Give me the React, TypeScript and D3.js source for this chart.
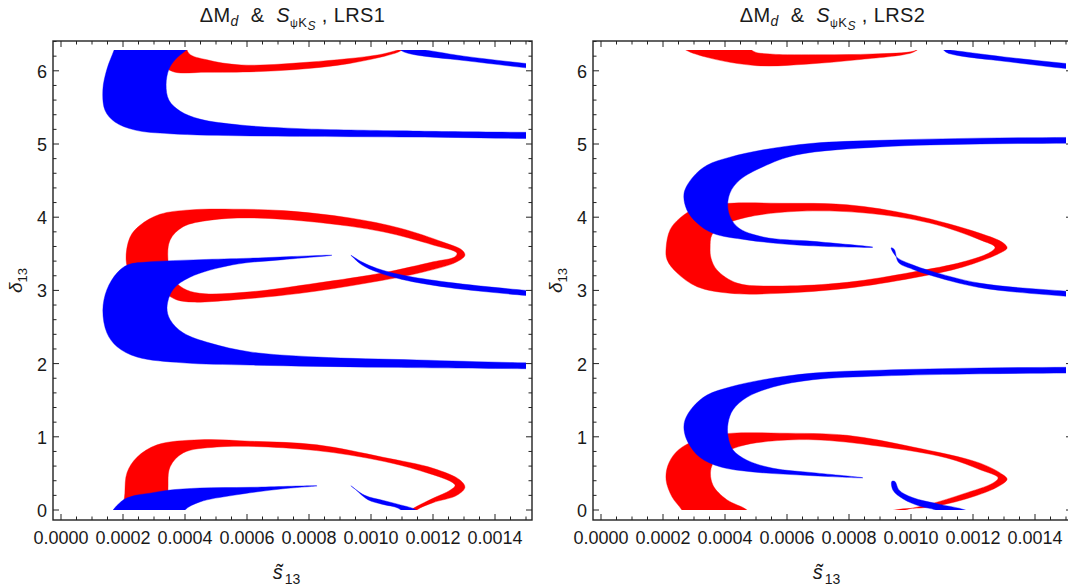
import React from 'react';
import * as d3 from 'd3';

// ---------- axes ----------
const TAU = 2 * Math.PI;
const S_DOMAIN: [number, number] = [0, 0.0015];
const D_DOMAIN: [number, number] = [0, TAU];
const S_UNIT = 1e-4; // region s-values below are given in units of 1e-4

const X_MAJOR = [0, 0.0002, 0.0004, 0.0006, 0.0008, 0.001, 0.0012, 0.0014];
const X_LABELS = ['0.0000', '0.0002', '0.0004', '0.0006', '0.0008', '0.0010', '0.0012', '0.0014'];
const Y_MAJOR = [0, 1, 2, 3, 4, 5, 6];
const Y_LABELS = ['0', '1', '2', '3', '4', '5', '6'];

const RED = '#ff0000';
const BLUE = '#0000ff';

// ---------- LRS1 (left) : [s (1e-4), delta] ----------
const lrs1RedLoopOuter = [[2.10,3.42],[2.23,3.73],[2.55,3.89],[3.19,4.04],[4.16,4.10],[5.55,4.11],[7.16,4.09],[9.32,3.99],[10.94,3.85],[12.32,3.66],[12.94,3.55],[13.03,3.48],[12.77,3.39],[11.68,3.25],[9.87,3.10],[7.71,2.96],[5.55,2.87],[4.26,2.84],[3.74,2.87],[3.42,2.94],[2.87,3.05],[2.23,3.24]];
const lrs1RedLoopInner = [[3.45,3.42],[3.52,3.69],[3.94,3.87],[4.81,3.96],[6.10,3.99],[8.26,3.93],[10.39,3.80],[12.0,3.62],[12.77,3.51],[12.71,3.46],[12.0,3.39],[10.39,3.24],[8.26,3.10],[6.10,2.98],[4.48,2.96],[3.94,3.03],[3.58,3.18]];
const lrs1RedTop = [[3.3,6.5],[3.95,6.5],[4.12,6.24],[4.71,6.15],[5.81,6.08],[8.03,6.12],[10.26,6.22],[11.05,6.30],[10.84,6.25],[9.16,6.09],[6.94,6.0],[4.71,5.98],[3.6,5.99],[3.3,6.1]];
const lrs1RedBottom = [[2.06,-0.2],[2.06,0.23],[2.13,0.51],[2.45,0.72],[3.10,0.89],[4.48,0.96],[6.10,0.94],[8.26,0.89],[10.39,0.72],[12.0,0.57],[12.87,0.41],[13.03,0.31],[12.77,0.20],[12.0,0.10],[11.48,0.0],[11.3,-0.1],[11.1,-0.1],[11.29,0.0],[11.48,0.05],[12.0,0.16],[12.55,0.27],[12.71,0.34],[11.48,0.55],[9.32,0.75],[7.16,0.85],[5.03,0.86],[3.94,0.78],[3.52,0.59],[3.45,0.27],[3.45,-0.2]];

const lrs1BlueTopC = [[1.86,6.45],[1.71,6.28],[1.48,6.02],[1.35,5.74],[1.42,5.46],[1.74,5.30],[2.39,5.19],[3.52,5.14],[6.10,5.11],[9.32,5.10],[12.5,5.09],[15.0,5.075],[16.5,5.07],[16.5,5.16],[15.0,5.16],[12.5,5.17],[10.94,5.18],[7.71,5.21],[5.77,5.26],[4.48,5.34],[3.84,5.45],[3.48,5.60],[3.39,5.81],[3.48,6.02],[3.68,6.15],[4.03,6.28],[4.5,6.45]];
const lrs1BlueTopThin = [[10.95,6.29],[11.4,6.30],[13,6.2],[15,6.1],[16.5,6.04],[16.5,5.97],[15,6.04],[13,6.14],[11.4,6.22],[11.05,6.26]];
const lrs1BlueMidC = [[8.74,3.48],[6.10,3.44],[4.48,3.42],[2.87,3.39],[2.16,3.35],[1.81,3.24],[1.48,3.01],[1.35,2.73],[1.48,2.42],[1.81,2.23],[2.45,2.09],[3.94,2.01],[6.10,1.98],[10.39,1.95],[15.0,1.93],[16.5,1.925],[16.5,2.0],[15.0,2.01],[11.48,2.05],[8.26,2.09],[6.10,2.16],[4.81,2.28],[3.94,2.42],[3.52,2.60],[3.42,2.77],[3.61,3.01],[4.16,3.18],[5.55,3.35],[7.16,3.42]];
const lrs1BlueMidThin = [[9.35,3.48],[9.7,3.39],[10.2,3.30],[11,3.21],[12.5,3.11],[15,3.0],[16.5,2.95],[16.5,2.88],[15,2.93],[12.5,3.04],[11,3.15],[10.2,3.25],[9.7,3.35],[9.4,3.46]];
const lrs1BlueBottomLeft = [[1.5,-0.15],[1.68,0.0],[1.9,0.1],[2.06,0.15],[2.4,0.2],[2.87,0.23],[3.45,0.27],[4.48,0.30],[6.10,0.31],[8.26,0.33],[7.16,0.29],[5.55,0.20],[4.48,0.11],[4.0,0.0],[3.85,-0.15]];
const lrs1BlueBottomThin = [[9.35,0.33],[9.8,0.20],[10.4,0.13],[10.95,0.07],[11.45,0.0],[11.6,-0.1],[11.2,-0.1],[10.9,0.02],[10.35,0.08],[9.9,0.14],[9.45,0.3]];

// ---------- LRS2 (right) ----------
const lrs2RedLoopOuter = [[2.10,3.58],[2.23,3.83],[2.55,3.99],[3.10,4.13],[4.16,4.19],[5.77,4.19],[7.94,4.17],[10.06,4.03],[12.23,3.78],[12.97,3.65],[13.10,3.58],[12.87,3.51],[11.68,3.32],[10.06,3.17],[7.94,3.03],[5.77,2.96],[4.16,2.96],[3.10,3.05],[2.45,3.24],[2.13,3.42]];
const lrs2RedLoopInner = [[3.52,3.58],[3.58,3.76],[3.94,3.89],[4.71,4.0],[6.32,4.08],[8.45,4.06],[10.61,3.92],[12.23,3.69],[12.71,3.59],[12.55,3.52],[11.68,3.39],[10.06,3.25],[7.94,3.11],[5.77,3.06],[4.39,3.10],[3.74,3.28],[3.55,3.44]];
const lrs2RedTop = [[2.5,6.45],[4.6,6.45],[4.9,6.27],[5.45,6.23],[7.13,6.22],[8.77,6.23],[10.1,6.27],[10.3,6.32],[10.05,6.25],[8.26,6.15],[6.61,6.09],[5.03,6.07],[3.45,6.18],[2.68,6.3],[2.5,6.4]];
const lrs2RedBottom = [[2.8,-0.15],[2.61,0],[2.29,0.18],[2.10,0.41],[2.16,0.61],[2.42,0.79],[2.87,0.92],[3.52,1.01],[4.26,1.05],[5.77,1.05],[7.94,1.02],[10.06,0.86],[12.23,0.64],[12.97,0.48],[13.10,0.42],[12.77,0.31],[11.68,0.14],[10.61,0.04],[9.48,0],[8.8,-0.1],[9.2,-0.1],[9.81,0],[10.61,0.08],[11.68,0.22],[12.65,0.37],[12.81,0.44],[12.23,0.55],[11.16,0.71],[9.0,0.87],[6.84,0.96],[5.23,0.93],[4.48,0.87],[3.84,0.75],[3.55,0.57],[3.61,0.34],[4.06,0.14],[4.71,0],[5.0,-0.15]];

const lrs2BlueUpperC = [[16.5,5.095],[15.0,5.09],[12.23,5.08],[9.0,5.05],[6.84,5.01],[5.23,4.92],[4.16,4.82],[3.42,4.71],[2.97,4.55],[2.68,4.33],[2.77,4.10],[3.10,3.92],[3.61,3.78],[4.71,3.69],[6.32,3.62],[8.77,3.59],[6.84,3.67],[5.23,3.73],[4.39,3.87],[4.10,4.10],[4.16,4.33],[4.48,4.51],[5.23,4.69],[6.3,4.85],[9.0,4.96],[12.23,5.0],[15.0,5.01],[16.5,5.015]];
const lrs2BlueLowerC = [[16.5,1.955],[15.0,1.95],[12.23,1.94],[9.0,1.91],[6.84,1.87],[5.23,1.78],[4.16,1.68],[3.42,1.57],[2.97,1.41],[2.71,1.23],[2.68,1.09],[2.81,0.92],[3.19,0.72],[3.84,0.59],[4.90,0.52],[6.32,0.48],[8.45,0.44],[6.84,0.51],[5.55,0.57],[4.71,0.68],[4.26,0.82],[4.10,1.0],[4.10,1.19],[4.26,1.37],[4.71,1.54],[5.55,1.68],[6.84,1.78],[9.0,1.83],[12.23,1.86],[15.0,1.87],[16.5,1.875]];
const lrs2BlueTopThin = [[11.05,6.29],[11.5,6.27],[13,6.19],[15,6.1],[16.5,6.04],[16.5,5.97],[15,6.03],[13,6.13],[11.5,6.21],[11.15,6.25]];
const lrs2BlueMidThin = [[9.36,3.58],[9.55,3.45],[10.05,3.35],[10.6,3.27],[12.2,3.10],[15,2.99],[16.5,2.95],[16.5,2.88],[15,2.92],[12.2,3.04],[10.6,3.21],[10.05,3.29],[9.6,3.38],[9.46,3.56]];
const lrs2BlueBottomThin = [[9.38,0.39],[9.42,0.27],[9.75,0.15],[10.3,0.05],[10.8,0.0],[11.3,-0.1],[12.2,-0.1],[11.75,0.0],[10.9,0.08],[10.05,0.17],[9.62,0.27],[9.48,0.39]];

type Ring = number[][];
type Region = { color: string; rings: Ring[] };

const LRS1_REGIONS: Region[] = [
  { color: RED, rings: [lrs1RedLoopOuter, lrs1RedLoopInner] },
  { color: RED, rings: [lrs1RedTop] },
  { color: RED, rings: [lrs1RedBottom] },
  { color: BLUE, rings: [lrs1BlueTopC] },
  { color: BLUE, rings: [lrs1BlueTopThin] },
  { color: BLUE, rings: [lrs1BlueMidC] },
  { color: BLUE, rings: [lrs1BlueMidThin] },
  { color: BLUE, rings: [lrs1BlueBottomLeft] },
  { color: BLUE, rings: [lrs1BlueBottomThin] },
];
const LRS2_REGIONS: Region[] = [
  { color: RED, rings: [lrs2RedLoopOuter, lrs2RedLoopInner] },
  { color: RED, rings: [lrs2RedTop] },
  { color: RED, rings: [lrs2RedBottom] },
  { color: BLUE, rings: [lrs2BlueUpperC] },
  { color: BLUE, rings: [lrs2BlueLowerC] },
  { color: BLUE, rings: [lrs2BlueTopThin] },
  { color: BLUE, rings: [lrs2BlueMidThin] },
  { color: BLUE, rings: [lrs2BlueBottomThin] },
];

const FONT = '"Liberation Sans", Arial, Helvetica, sans-serif';
const TEXT = '#1a1a1a';

function Panel({ ox, name, regions, id }: { ox: number; name: string; regions: Region[]; id: string }) {
  const x = d3.scaleLinear().domain(S_DOMAIN).range([61 + ox, 526 + ox]);
  const y = d3.scaleLinear().domain(D_DOMAIN).range([510, 510 - TAU * 73.2]);
  const line = d3
    .line<number[]>()
    .x((d) => x(d[0] * S_UNIT))
    .y((d) => y(d[1]))
    .curve(d3.curveCatmullRomClosed.alpha(0.5));
  const frame = { x0: 53 + ox, x1: 532 + ox, y0: 41, y1: 520 };
  const xMinor = d3.range(0, 31).map((i) => i * 0.00005);
  const yMinor = d3.range(0, 33).map((i) => i * 0.2);
  const cx = (frame.x0 + frame.x1) / 2;
  const cy = (frame.y0 + frame.y1) / 2;
  const isMajorX = (v: number) => X_MAJOR.some((m) => Math.abs(m - v) < 1e-9);
  const isMajorY = (v: number) => Y_MAJOR.some((m) => Math.abs(m - v) < 1e-9);
  return (
    <g>
      <defs>
        <clipPath id={id}>
          <rect x={x(0)} y={y(TAU)} width={x(0.0015) - x(0)} height={y(0) - y(TAU)} />
        </clipPath>
      </defs>
      <g clipPath={`url(#${id})`}>
        {regions.map((r, i) => (
          <path key={i} d={r.rings.map((ring) => line(ring)).join(' ')} fill={r.color} fillRule="evenodd" stroke={r.color} strokeWidth={0.4} />
        ))}
      </g>
      {/* frame */}
      <rect x={frame.x0} y={frame.y0} width={frame.x1 - frame.x0} height={frame.y1 - frame.y0} fill="none" stroke="#222" strokeWidth={1.4} />
      {xMinor.map((v, i) => {
        const L = isMajorX(v) ? 6 : 3.5;
        const px = x(v);
        return (
          <g key={'xt' + i} stroke="#222" strokeWidth={1}>
            <line x1={px} x2={px} y1={frame.y1} y2={frame.y1 - L} />
            <line x1={px} x2={px} y1={frame.y0} y2={frame.y0 + L} />
          </g>
        );
      })}
      {yMinor.map((v, i) => {
        const L = isMajorY(v) ? 6 : 3.5;
        const py = y(v);
        if (py < frame.y0 + 0.5) return null;
        return (
          <g key={'yt' + i} stroke="#222" strokeWidth={1}>
            <line x1={frame.x0} x2={frame.x0 + L} y1={py} y2={py} />
            <line x1={frame.x1} x2={frame.x1 - L} y1={py} y2={py} />
          </g>
        );
      })}
      {X_MAJOR.map((v, i) => (
        <text key={'xl' + i} x={x(v)} y={544} textAnchor="middle" fontSize={18} fontFamily={FONT} fill={TEXT}>
          {X_LABELS[i]}
        </text>
      ))}
      {Y_MAJOR.map((v, i) => (
        <text key={'yl' + i} x={frame.x0 - 6} y={y(v) + 7} textAnchor="end" fontSize={18} fontFamily={FONT} fill={TEXT}>
          {Y_LABELS[i]}
        </text>
      ))}
      {/* title */}
      <text x={cx} y={22} textAnchor="middle" fontSize={20} fontFamily={FONT} fill={TEXT} letterSpacing={0.4} style={{ whiteSpace: 'pre' }}>
        <tspan>ΔM</tspan>
        <tspan fontStyle="italic" fontSize={14} dy={4}>d</tspan>
        <tspan dy={-4}>{'  &  '}</tspan>
        <tspan fontStyle="italic">S</tspan>
        <tspan fontSize={11} dy={5}>ψ</tspan>
        <tspan fontSize={13}>K</tspan>
        <tspan fontStyle="italic" fontSize={12} dy={3}>S</tspan>
        <tspan dy={-8}>{' , ' + name}</tspan>
      </text>
      {/* x label */}
      <text x={cx - 6} y={579} textAnchor="middle" fontSize={20} fontFamily={FONT} fill={TEXT}>
        <tspan fontStyle="italic">{'s\u0303'}</tspan>
        <tspan fontSize={14} dy={5} dx={2}>13</tspan>
      </text>
      {/* y label */}
      <text transform={`translate(${ox + 22},${cy}) rotate(-90)`} textAnchor="middle" fontSize={19} fontFamily={FONT} fill={TEXT}>
        <tspan fontStyle="italic">δ</tspan>
        <tspan fontSize={13} dy={5}>13</tspan>
      </text>
    </g>
  );
}

export default function App() {
  return (
    <svg width={1068} height={586} viewBox="0 0 1068 586" style={{ position: 'absolute', left: 0, top: 0, background: '#fff' }}>
      <rect x={0} y={0} width={1068} height={586} fill="#fff" />
      <Panel ox={0} name="LRS1" regions={LRS1_REGIONS} id="clipL" />
      <Panel ox={540} name="LRS2" regions={LRS2_REGIONS} id="clipR" />
    </svg>
  );
}
